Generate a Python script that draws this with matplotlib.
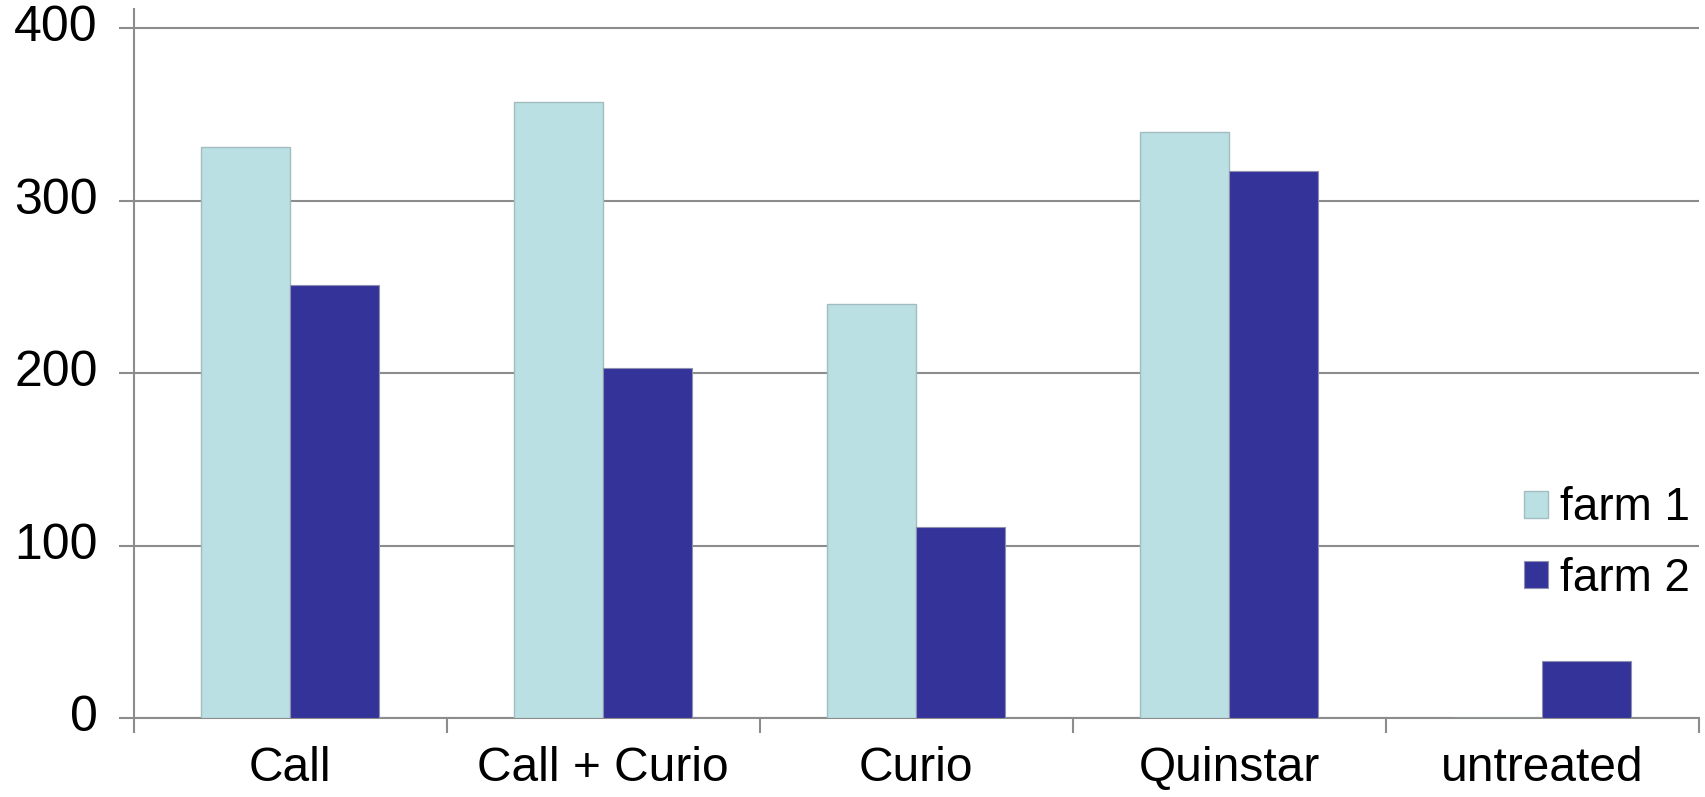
import matplotlib
matplotlib.use("Agg")
import matplotlib.pyplot as plt
import numpy as np

categories = ["Call", "Call + Curio", "Curio", "Quinstar", "untreated"]
farm1 = [331, 357, 240, 340, 0]
farm2 = [251, 203, 111, 317, 33]
series_labels = ["farm 1", "farm 2"]
y_ticks = [0, 100, 200, 300, 400]

plt.rcParams["font.family"] = ["Liberation Sans", "DejaVu Sans"]

fig = plt.figure(figsize=(17.05, 7.97), dpi=100)
ax = fig.add_axes([0.0784, 0.0988, 0.9179, 0.8899])

x = np.arange(len(categories))
w = 0.285
axis_grey = "#8c8c8c"

ax.bar(x - w / 2, farm1, width=w, color="#bae0e3", edgecolor="#a3bcc0",
       linewidth=1.0, label=series_labels[0], zorder=3)
ax.bar(x + w / 2, farm2, width=w, color="#333399", edgecolor="#8f8fb0",
       linewidth=0.8, label=series_labels[1], zorder=3)

ax.set_xlim(-0.5, len(categories) - 0.5)
ax.set_ylim(0, 411)
ax.set_yticks(y_ticks)
ax.set_yticklabels([str(v) for v in y_ticks], va="center")
ax.set_xticks(x)
ax.set_xticklabels(categories)
ax.set_xticks(np.arange(len(categories) + 1) - 0.5, minor=True)

ax.yaxis.grid(True, color=axis_grey, linewidth=1.5, zorder=0)
ax.set_axisbelow(True)

for side in ("top", "right"):
    ax.spines[side].set_visible(False)
for side in ("left", "bottom"):
    ax.spines[side].set_color(axis_grey)
    ax.spines[side].set_linewidth(1.5)

ax.tick_params(axis="y", which="major", length=11, width=1.5, color=axis_grey,
               direction="out", pad=15, labelsize=36)
ax.tick_params(axis="x", which="major", length=0, pad=20, labelsize=34.5)
ax.tick_params(axis="x", which="minor", length=11, width=1.5, color=axis_grey,
               direction="out")

ax.legend(loc="center left", bbox_to_anchor=(0.8938, 0.318),
          bbox_transform=fig.transFigure, frameon=False, fontsize=33,
          handlelength=0.52, handleheight=0.54, handletextpad=0.26,
          labelspacing=0.57, borderpad=0, borderaxespad=0)

fig.savefig("out.png", dpi=100, facecolor="white")
